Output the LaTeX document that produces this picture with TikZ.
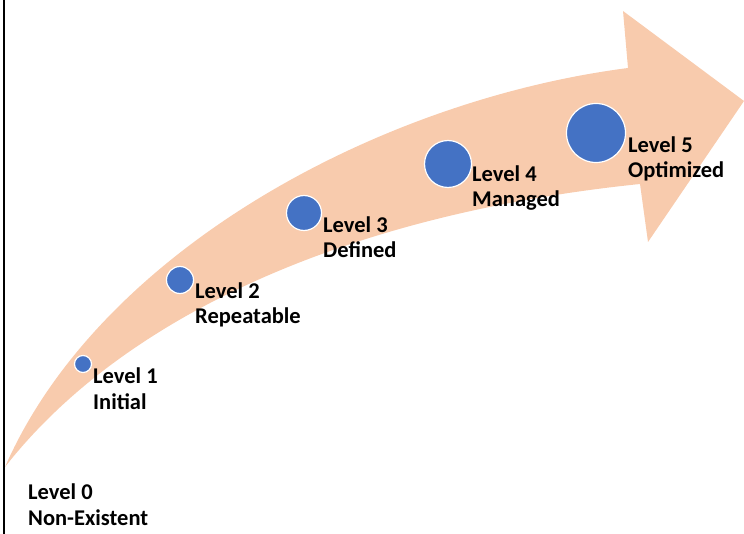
\documentclass[tikz,border=0pt]{standalone}
\usepackage{fontspec}
\setmainfont{Carlito}
\usetikzlibrary{positioning}
\definecolor{arrowpeach}{HTML}{F8CBAD}
\definecolor{levelblue}{HTML}{4472C4}

\begin{document}
\begin{tikzpicture}[
    x=1pt, y=-1pt,
    dot/.style={circle, draw=white, line width=1.2pt, fill=levelblue, inner sep=0pt, minimum size=#1},
    lbl/.style={anchor=base west, align=left, inner sep=0pt, font=\fontsize{22.5}{25.5}\selectfont\bfseries},
    axisline/.style={line width=2pt}
]
\useasboundingbox (0,0) rectangle (744,534);

% Left edge line
\draw[axisline] (3.5,0) -- (3.5,534);

% Big curved arrow
\fill[arrowpeach] (5,467) .. controls (100,250) and (380,100) .. (628,68)
    -- (623,11) -- (744,101) -- (648,242) -- (640,184)
    .. controls (340,215) and (120,320) .. cycle;

% Level markers
\node[dot=17pt] (lv1) at (83,364) {};
\node[dot=27pt] (lv2) at (180,280) {};
\node[dot=35pt] (lv3) at (304,213) {};
\node[dot=47pt] (lv4) at (448,164) {};
\node[dot=59pt] (lv5) at (596,133) {};

% Labels (anchored at the baseline of the second line)
\node[lbl] (txt0) at (28,525) {Level 0\\Non-Existent};
\node[lbl] (txt1) at (93,409) {Level 1\\Initial};
\node[lbl] (txt2) at (195,324) {Level 2\\Repeatable};
\node[lbl] (txt3) at (323,258) {Level 3\\Defined};
\node[lbl] (txt4) at (472,207) {Level 4\\Managed};
\node[lbl] (txt5) at (628,178) {Level 5\\Optimized};

\end{tikzpicture}
\end{document}
